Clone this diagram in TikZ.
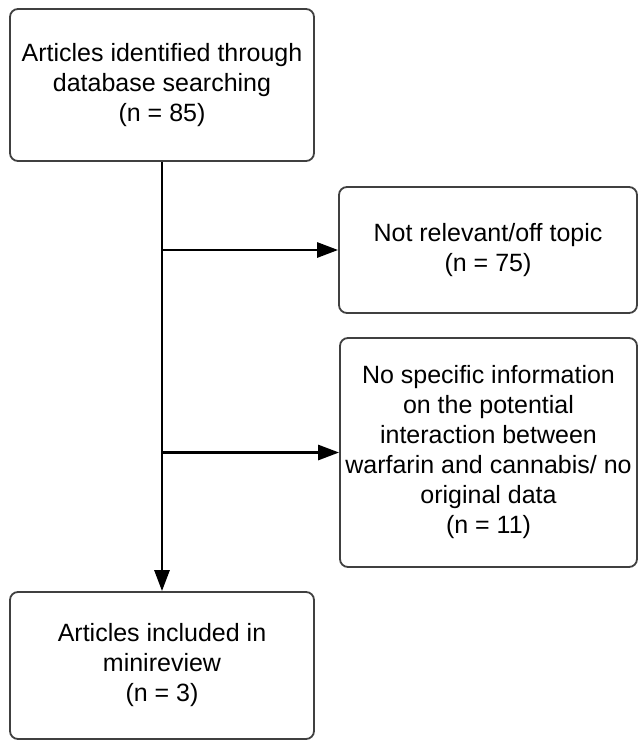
\documentclass[tikz,border=0pt]{standalone}
\usepackage{fontspec}
\setmainfont{Liberation Sans}
\usepackage{xcolor}
\usetikzlibrary{arrows.meta}

\begin{document}
\begin{tikzpicture}[x=1pt, y=-1pt,
  bx/.style={draw=black!75, line width=1.8pt, rounded corners=8pt,
             inner sep=0pt, align=center,
             font=\fontsize{25}{30}\selectfont},
  arr/.style={line width=2.8pt, -{Triangle[length=21pt,width=15pt]}}]
\useasboundingbox (0,0) rectangle (638,740);
\node[bx, minimum width=304, minimum height=152] (ident) at (162,85)
  {Articles identified through\\database searching\\(n = 85)};
\node[bx, minimum width=298, minimum height=126] (offtopic) at (488,250)
  {Not relevant/off topic\\(n = 75)};
\node[bx, minimum width=297, minimum height=229] (nodata) at (488.5,452.5)
  {No specific information\\on the potential\\interaction between\\warfarin and cannabis/ no\\original data\\(n = 11)};
\node[bx, minimum width=304, minimum height=147] (incl) at (162,665.5)
  {Articles included in\\minireview\\(n = 3)};
\coordinate (j1) at (ident.south |- offtopic.west);
\coordinate (j2) at (ident.south |- nodata.west);
\draw[arr] (ident) -- (incl);
\draw[arr] (j1) -- (offtopic);
\draw[arr] (j2) -- (nodata);
\end{tikzpicture}
\end{document}
